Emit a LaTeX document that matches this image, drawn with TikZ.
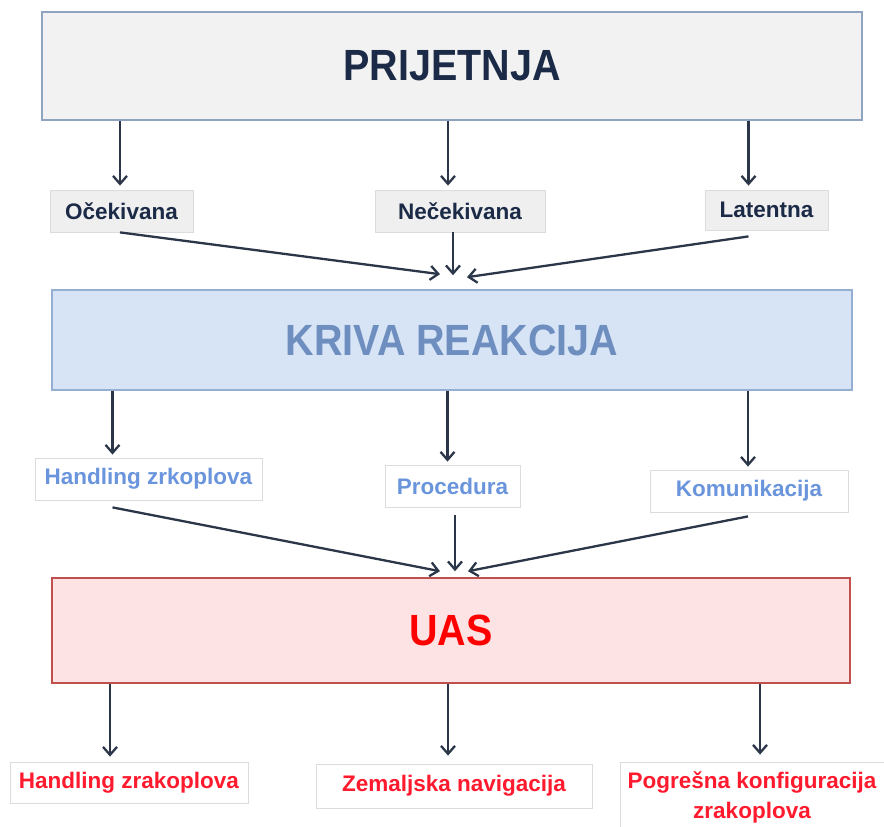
\documentclass[tikz,border=0pt]{standalone}
\usepackage{fontspec}
\setmainfont{Liberation Sans}
\usetikzlibrary{arrows.meta,calc}
\definecolor{arrc}{HTML}{2B3748}
\definecolor{pfill}{HTML}{F2F2F2}
\definecolor{pdraw}{HTML}{8EA4C0}
\definecolor{gfill}{HTML}{EFEFEF}
\definecolor{gdraw}{HTML}{DCDCDC}
\definecolor{ttext}{HTML}{1B2A47}
\definecolor{kfill}{HTML}{D6E4F5}
\definecolor{kdraw}{HTML}{94AFD3}
\definecolor{ktext}{HTML}{6E8EBF}
\definecolor{btext}{HTML}{6A95DC}
\definecolor{ufill}{HTML}{FDE3E3}
\definecolor{udraw}{HTML}{C0504D}
\definecolor{utext}{HTML}{FF0000}
\definecolor{rtext}{HTML}{FF1A2E}
\tikzset{
  bigbox/.style={rectangle, line width=1.6pt, inner sep=0pt, font=\fontsize{42}{46}\selectfont\bfseries},
  graybox/.style={rectangle, fill=gfill, draw=gdraw, line width=0.8pt, inner sep=0pt, text=ttext, font=\fontsize{22.5}{26}\selectfont\bfseries},
  whitebox/.style={rectangle, fill=white, draw=gdraw, line width=0.8pt, inner sep=0pt, font=\fontsize{22.5}{30}\selectfont\bfseries},
  arr/.style={draw=arrc, line width=2.3pt, -{Straight Barb[length=8pt,width=14pt,line width=2.3pt]}}
}
\begin{document}
\begin{tikzpicture}[x=1pt,y=-1pt]
\useasboundingbox (0,0) rectangle (884,827);
\fill[white] (0,0) rectangle (884,827);

% level 1
\node[bigbox, fill=pfill, draw=pdraw, text=ttext, minimum width=820pt, minimum height=108pt] (P) at (452,66) {\scalebox{0.94}[1.04]{PRIJETNJA}};
\node[graybox, minimum width=143pt, minimum height=42pt] (O) at (121.5,211) {Očekivana};
\node[graybox, minimum width=170pt, minimum height=42pt] (N) at (460,211) {Nečekivana};
\node[graybox, minimum width=123pt, minimum height=40pt] (L) at (766.5,210) {Latentna};

% level 2
\node[bigbox, fill=kfill, draw=kdraw, text=ktext, minimum width=800pt, minimum height=100pt] (K) at (452,340) {\scalebox{0.94}[1.04]{KRIVA REAKCIJA}};
\node[whitebox, text=btext, minimum width=227pt, minimum height=42pt] (H) at (148.5,479) {Handling zrkoplova};
\node[whitebox, text=btext, minimum width=135pt, minimum height=42pt] (Pr) at (452.5,486) {Procedura};
\node[whitebox, text=btext, minimum width=198pt, minimum height=42pt] (Ko) at (749,491) {Komunikacija};

% level 3
\node[bigbox, fill=ufill, draw=udraw, text=utext, minimum width=798pt, minimum height=105pt] (U) at (451,630.5) {\scalebox{0.94}[1.04]{UAS}};
\node[whitebox, text=rtext, minimum width=238pt, minimum height=41pt] (HR) at (129,782.5) {Handling zrakoplova};
\node[whitebox, text=rtext, minimum width=276pt, minimum height=44pt] (Z) at (454,786) {Zemaljska navigacija};
\node[whitebox, text=rtext, minimum width=264pt, minimum height=70pt, align=center] (PK) at (752,797) {Pogrešna konfiguracija\\zrakoplova};

% coordinates for arrows
\coordinate (o1) at ([xshift=-1.5pt,yshift=4pt]O.north);
\coordinate (n1) at ([xshift=-12pt,yshift=4pt]N.north);
\coordinate (l1) at ([xshift=-18pt,yshift=4pt]L.north);
\coordinate (kL) at ([xshift=-12pt,yshift=15pt]K.north);
\coordinate (kM) at ([xshift=1pt,yshift=14pt]K.north);
\coordinate (kR) at ([xshift=15pt,yshift=12pt]K.north);

\coordinate (h1) at ([xshift=-36pt,yshift=3pt]H.north);
\coordinate (p1) at ([xshift=-5pt,yshift=3pt]Pr.north);
\coordinate (c1) at ([xshift=-1pt,yshift=3pt]Ko.north);
\coordinate (uL) at ([xshift=-11pt,yshift=6pt]U.north);
\coordinate (uM) at ([xshift=4pt,yshift=6pt]U.north);
\coordinate (uR) at ([xshift=17pt,yshift=6pt]U.north);

\coordinate (r1) at ([xshift=-19pt,yshift=5pt]HR.north);
\coordinate (z1) at ([xshift=-6pt,yshift=8pt]Z.north);
\coordinate (q1) at ([xshift=8pt,yshift=7pt]PK.north);

% arrows level 1
\draw[arr] (P.south -| o1) -- (o1);
\draw[arr] (P.south -| n1) -- (n1);
\draw[arr] (P.south -| l1) -- (l1);
\draw[arr] ([xshift=-1.5pt]O.south) -- (kL);
\draw[arr] (N.south -| kM) -- (kM);
\draw[arr] ([xshift=-18pt,yshift=-6pt]L.south) -- (kR);

% arrows level 2
\draw[arr] (K.south -| h1) -- (h1);
\draw[arr] (K.south -| p1) -- (p1);
\draw[arr] (K.south -| c1) -- (c1);
\draw[arr] ([xshift=-36pt,yshift=-7pt]H.south) -- (uL);
\draw[arr] ([yshift=-8pt]Pr.south -| uM) -- (uM);
\draw[arr] ([xshift=-1pt,yshift=-4pt]Ko.south) -- (uR);

% arrows level 3
\draw[arr] (U.south -| r1) -- (r1);
\draw[arr] (U.south -| z1) -- (z1);
\draw[arr] (U.south -| q1) -- (q1);
\end{tikzpicture}
\end{document}
